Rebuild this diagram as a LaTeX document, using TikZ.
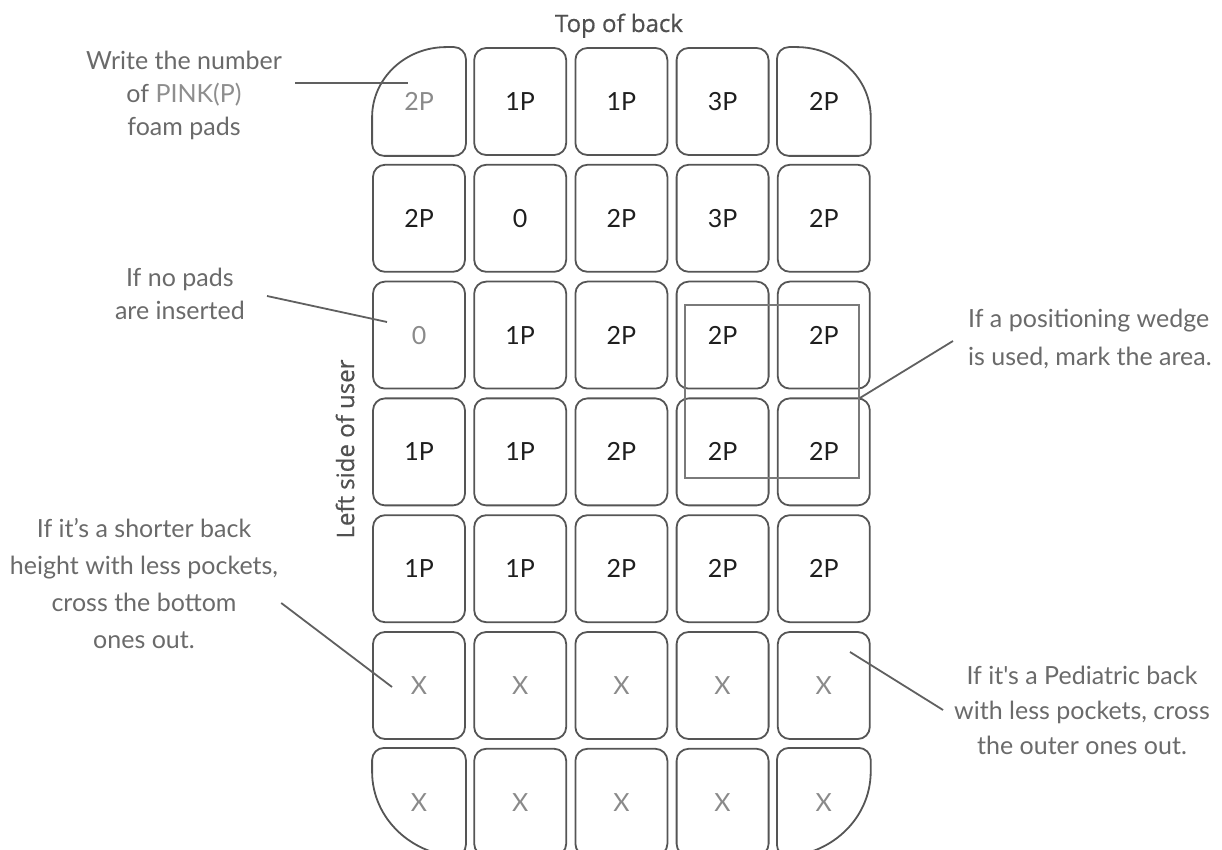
\documentclass[tikz,border=0pt]{standalone}
\usepackage{fontspec}
\setmainfont{Lato}
\newfontfamily\notefont{Lato}
\newfontfamily\headfont{Open Sans}[FakeBold=0.6]
\usetikzlibrary{positioning}

\definecolor{padline}{HTML}{555555}
\definecolor{numblack}{HTML}{1E1E1E}
\definecolor{numgray}{HTML}{8A8A8A}
\definecolor{notegray}{HTML}{6A6A6A}
\definecolor{pinkgray}{HTML}{8E8E8E}
\definecolor{headgray}{HTML}{505050}
\definecolor{wedgegray}{HTML}{7A7A7A}
\definecolor{leadgray}{HTML}{606060}

\newcommand{\faint}[1]{\textcolor{numgray}{#1}}

\begin{document}
\begin{tikzpicture}[x=1pt,y=1pt,
  pad/.style={draw=padline,line width=1.8pt,rounded corners=12pt,minimum width=92pt,minimum height=107pt,inner sep=0pt,font=\fontsize{25}{30}\selectfont,text=numblack},
  padbare/.style={pad,draw=none},
  padedge/.style={draw=padline,line width=1.8pt},
  wedgebox/.style={draw=wedgegray,line width=1.8pt,minimum width=174pt,minimum height=173pt,inner sep=0pt},
  note/.style={font=\notefont\fontsize{25}{33}\selectfont,text=notegray,align=center,inner sep=0pt},
  head/.style={font=\headfont\fontsize{24}{28}\selectfont,text=headgray,inner sep=0pt},
  leader/.style={draw=leadgray,line width=1.8pt}]
\useasboundingbox (0,0) rectangle (1222,849);

% the pocket grid, 7 rows of 5
\foreach \vals [count=\row] in {{\faint{2P},1P,1P,3P,2P},{2P,0,2P,3P,2P},{\faint{0},1P,2P,2P,2P},{1P,1P,2P,2P,2P},{1P,1P,2P,2P,2P},{\faint{X},\faint{X},\faint{X},\faint{X},\faint{X}},{\faint{X},\faint{X},\faint{X},\faint{X},\faint{X}}}
  \foreach \v [count=\col] in \vals {
    \def\kind{pad}
    \ifnum\row=1 \ifnum\col=1 \def\kind{padbare}\fi \ifnum\col=5 \def\kind{padbare}\fi \fi
    \ifnum\row=7 \ifnum\col=1 \def\kind{padbare}\fi \ifnum\col=5 \def\kind{padbare}\fi \fi
    \node[\kind] (c\row\col) at ({419+101.2*(\col-1)},{747.5-116.8*(\row-1)}) {\v};
  }

% corner pockets with the large curve
\draw[padedge] ([yshift=-70pt]c11.north west) arc[start angle=180,end angle=90,x radius=74pt,y radius=70pt] -- ([xshift=-12pt]c11.north east) arc[start angle=90,end angle=0,radius=12pt] -- ([yshift=12pt]c11.south east) arc[start angle=0,end angle=-90,radius=12pt] -- ([xshift=12pt]c11.south west) arc[start angle=-90,end angle=-180,radius=12pt] -- cycle;
\draw[padedge] ([yshift=-12pt]c15.north west) arc[start angle=180,end angle=90,radius=12pt] -- ([xshift=-74pt]c15.north east) arc[start angle=90,end angle=0,x radius=74pt,y radius=70pt] -- ([yshift=12pt]c15.south east) arc[start angle=0,end angle=-90,radius=12pt] -- ([xshift=12pt]c15.south west) arc[start angle=-90,end angle=-180,radius=12pt] -- cycle;
\draw[padedge] ([yshift=-12pt]c71.north west) arc[start angle=180,end angle=90,radius=12pt] -- ([xshift=-12pt]c71.north east) arc[start angle=90,end angle=0,radius=12pt] -- ([yshift=12pt]c71.south east) arc[start angle=0,end angle=-90,radius=12pt] -- ([xshift=90pt]c71.south west) arc[start angle=-90,end angle=-180,x radius=90pt,y radius=85pt] -- cycle;
\draw[padedge] ([yshift=-12pt]c75.north west) arc[start angle=180,end angle=90,radius=12pt] -- ([xshift=-12pt]c75.north east) arc[start angle=90,end angle=0,radius=12pt] -- ([yshift=85pt]c75.south east) arc[start angle=0,end angle=-90,x radius=90pt,y radius=85pt] -- ([xshift=12pt]c75.south west) arc[start angle=-90,end angle=-180,radius=12pt] -- cycle;

\node[wedgebox] (wedge) at (772,457.5) {};

\node[head,anchor=base] (topback) at (619,817) {Top of back};
\node[head,rotate=90] (leftside) at (345,400) {Left side of user};

\node[note] (pinknote) at (184,754) {Write the number\\of \textcolor{pinkgray}{PINK(P)}\\foam pads};
\node[note,anchor=east] (emptynote) at (245,555.5) {If no pads\\are inserted};
\node[note,align=left,anchor=west,font=\notefont\fontsize{25}{38}\selectfont] (wedgenote) at (968,510) {If a positioning wedge\\is used, mark the area.};
\node[note,font=\notefont\fontsize{25}{37}\selectfont] (shortnote) at (144,265) {If it’s a shorter back\\height with less pockets,\\cross the bottom\\ones out.};
\node[note,font=\notefont\fontsize{25}{35}\selectfont] (childnote) at (1082,139) {If it's a Pediatric back\\with less pockets, cross\\the outer ones out.};

\coordinate (pinktip) at (408,766);
\coordinate (emptytip) at (387,527);
\coordinate (wedgetip) at (953,508);
\coordinate (shorttip) at (392,162);
\coordinate (childtip) at (850,197);
\draw[leader] ([xshift=13pt]pinknote.east |- pinktip) -- (pinktip);
\draw[leader] ([shift={(22pt,-2.5pt)}]emptynote.east) -- (emptytip);
\draw[leader] ([yshift=-6.5pt]wedge.east) -- (wedgetip);
\draw[leader] ([shift={(3pt,-19pt)}]shortnote.east) -- (shorttip);
\draw[leader] ([xshift=-11pt]childnote.west) -- (childtip);
\end{tikzpicture}
\end{document}
